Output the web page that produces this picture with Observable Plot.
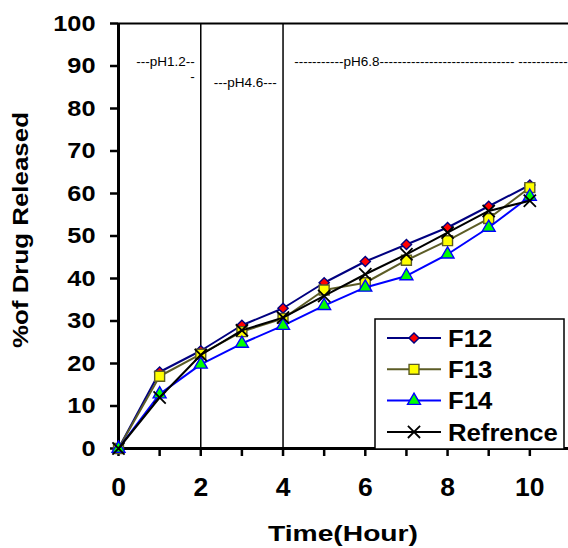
<!DOCTYPE html>
<html>
<head>
<meta charset="utf-8">
<script src="https://cdn.jsdelivr.net/npm/d3@7"></script>
<script src="https://cdn.jsdelivr.net/npm/@observablehq/plot@0.6"></script>
<style>
  html, body { margin: 0; padding: 0; background: #fff; }
  svg { display: block; }
</style>
</head>
<body>
<script>
// ---- data ----
const hours = [0, 1, 2, 3, 4, 5, 6, 7, 8, 9, 10];
const f12 = [0, 18, 23, 29, 33, 39, 44, 48, 52, 57, 62];
const f13 = [0, 17, 22.2, 27.5, 30.6, 37.3, 39, 44.3, 48.9, 54.1, 61.4];
const f14 = [0, 12.8, 19.8, 24.7, 28.9, 33.6, 37.9, 40.6, 45.7, 52, 59.3];
const refrence = [0, 12, 22, 27.8, 30.8, 35.9, 41, 45.7, 50.8, 55.9, 58.3];
const seriesNames = ["F12", "F13", "F14", "Refrence"];
const yTicks = [0, 10, 20, 30, 40, 50, 60, 70, 80, 90, 100];
const xTicks = hours;
const phaseBoundaries = [2, 4];
const phaseTexts = ["---pH1.2--", "-", "---pH4.6---", "-----------pH6.8------------------------------ -----------"];
const phaseHours = [1.14, 1.8, 3.08, 4.27];
const phasePct = [91, 87.6, 86.1, 91];
const xTitle = "Time(Hour)";
const yTitle = "%of Drug Released";

// ---- styles ----
const styles = {
  F12: {stroke: "#000080", fill: "#ff0000", symbol: "diamond2", r: 4.6},
  F13: {stroke: "#5c5c26", fill: "#ffff00", symbol: "square", r: 5.6},
  F14: {stroke: "#0000ff", fill: "#00ff00", symbol: "triangle", r: 4.8},
  Refrence: {stroke: "#000000", fill: "none", symbol: "times", r: 5.6}
};
const valuesBy = {F12: f12, F13: f13, F14: f14, Refrence: refrence};
const rows = seriesNames.flatMap(s => hours.map((h, i) => ({series: s, hour: h, value: valuesBy[s][i]})));
const annotations = phaseTexts.map((t, i) => ({text: t, hour: phaseHours[i], pct: phasePct[i]}));

const font = "'Liberation Sans', Arial, sans-serif";

const seriesMarks = seriesNames.flatMap(s => {
  const st = styles[s];
  const d = rows.filter(r => r.series === s);
  return [
    Plot.line(d, {x: "hour", y: "value", stroke: st.stroke, strokeWidth: 2}),
    Plot.dot(d, {x: "hour", y: "value", symbol: () => st.symbol, r: st.r,
      fill: st.fill,
      stroke: st.stroke, strokeWidth: st.symbol === "times" ? 1.8 : 1.4})
  ];
});

const plot = Plot.plot({
  width: 568,
  height: 548,
  marginLeft: 118,
  marginRight: 0,
  marginTop: 23,
  marginBottom: 100,
  x: {domain: [0, 10.94], axis: null},
  y: {domain: [0, 100], axis: null},
  symbol: {type: "identity"},
  style: {fontFamily: font, background: "white", color: "black", overflow: "visible"},
  marks: [
    Plot.ruleX(phaseBoundaries, {stroke: "black", strokeWidth: 1.5}),
    Plot.ruleY([100], {stroke: "black", strokeWidth: 2}),
    Plot.text(annotations.filter(d => d.hour < 4), {x: "hour", y: "pct", text: "text",
      textAnchor: "middle", fontSize: 13.5, fill: "black"}),
    Plot.text(annotations.filter(d => d.hour > 4), {x: "hour", y: "pct", text: "text",
      textAnchor: "start", fontSize: 13.5, fill: "black"}),
    Plot.axisY(yTicks, {anchor: "left", tickSize: 8, tickPadding: 15, fontSize: 22,
      fontWeight: "bold", strokeWidth: 2.5, label: null, tickFormat: d => String(d)}),
    Plot.axisX(xTicks, {anchor: "bottom", tickSize: 8, tickPadding: 22, fontSize: 25,
      fontWeight: "bold", strokeWidth: 2.5, label: null,
      tickFormat: d => (d % 2 === 0 ? String(d) : "")}),
    Plot.ruleX([0], {stroke: "black", strokeWidth: 3}),
    Plot.ruleY([0], {stroke: "black", strokeWidth: 3}),
    ...seriesMarks
  ]
});

document.body.appendChild(plot);
const svg = d3.select(plot);

// stretch tick labels slightly (reference font renders wider)
function stretch(sel, k) {
  sel.each(function () {
    const len = this.getComputedTextLength();
    if (len > 0) {
      this.setAttribute("textLength", len * k);
      this.setAttribute("lengthAdjust", "spacingAndGlyphs");
    }
  });
}
stretch(svg.selectAll('g[aria-label="y-axis tick label"] text'), 1.15);
stretch(svg.selectAll('g[aria-label="x-axis tick label"] text'), 1.06);

// axis titles
svg.append("text")
  .attr("x", 343).attr("y", 541)
  .attr("text-anchor", "middle")
  .attr("font-family", font).attr("font-weight", "bold").attr("font-size", 22)
  .attr("textLength", 150).attr("lengthAdjust", "spacingAndGlyphs")
  .text(xTitle);
svg.append("text")
  .attr("transform", "translate(28,230) rotate(-90)")
  .attr("text-anchor", "middle")
  .attr("font-family", font).attr("font-weight", "bold").attr("font-size", 22)
  .attr("textLength", 236).attr("lengthAdjust", "spacingAndGlyphs")
  .text(yTitle);

// legend
const lg = svg.append("g").attr("transform", "translate(375,319)");
lg.append("rect").attr("x", 0).attr("y", 0).attr("width", 189).attr("height", 130)
  .attr("fill", "white").attr("stroke", "black").attr("stroke-width", 1.5);
const symMap = {diamond2: d3.symbolDiamond2, square: d3.symbolSquare, triangle: d3.symbolTriangle, times: d3.symbolTimes};
seriesNames.forEach((s, i) => {
  const st = styles[s];
  const cy = 19 + i * 31.3;
  lg.append("line").attr("x1", 12).attr("x2", 66).attr("y1", cy).attr("y2", cy)
    .attr("stroke", st.stroke).attr("stroke-width", 2);
  lg.append("path")
    .attr("d", d3.symbol(symMap[st.symbol], st.r * st.r * Math.PI)())
    .attr("transform", `translate(39,${cy})`)
    .attr("fill", st.fill).attr("stroke", st.stroke)
    .attr("stroke-width", st.symbol === "times" ? 1.8 : 1.4);
  const t = lg.append("text").attr("x", 73).attr("y", cy).attr("dy", "0.36em")
    .attr("text-anchor", "start")
    .attr("font-family", font).attr("font-weight", "bold").attr("font-size", 24)
    .text(s);
  stretch(t, 1.07);
});
</script>
</body>
</html>
